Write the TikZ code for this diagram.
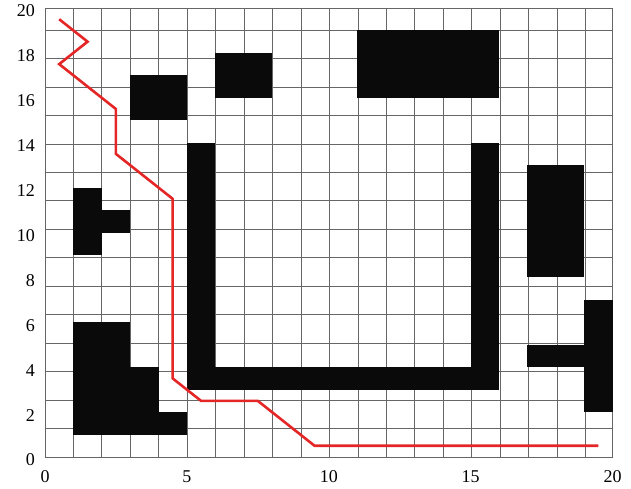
\documentclass[tikz,border=0pt]{standalone}
\usepackage{fontspec}
\setmainfont{Liberation Serif}
\begin{document}
\begin{tikzpicture}[x=28.375pt,y=22.45pt,
  gridline/.style={draw=black!60,line width=0.9pt},
  obst/.style={fill=black!96},
  route/.style={draw={rgb,255:red,228;green,38;blue,38},line width=2.6pt,line join=miter},
  ticklab/.style={font=\fontsize{18}{20}\selectfont,inner sep=0pt}]
\useasboundingbox (-45pt,-31pt) rectangle (586pt,457pt);
% grid
\draw[gridline] (0,0) grid (20,20);
\draw[gridline] (0,0) rectangle (20,20);
% obstacles
\fill[obst] (3,15) rectangle (5,17);
\fill[obst] (6,16) rectangle (8,18);
\fill[obst] (11,16) rectangle (16,19);
\fill[obst] (5,3) rectangle (6,14);
\fill[obst] (5,3) rectangle (16,4);
\fill[obst] (15,3) rectangle (16,14);
\fill[obst] (1,9) rectangle (2,12);
\fill[obst] (2,10) rectangle (3,11);
\fill[obst] (17,8) rectangle (19,13);
\fill[obst] (19,2) rectangle (20,7);
\fill[obst] (17,4) rectangle (19,5);
\fill[obst] (1,1) rectangle (3,6);
\fill[obst] (3,1) rectangle (4,4);
\fill[obst] (4,1) rectangle (5,2);
% path
\draw[route] (0.5,19.5) -- (1.5,18.5) -- (0.5,17.5) -- (2.5,15.5) -- (2.5,13.5)
  -- (4.5,11.5) -- (4.5,3.5) -- (5.5,2.5) -- (7.5,2.5) -- (9.5,0.5) -- (19.5,0.5);
% tick labels
\foreach \v in {0,5,10,15,20}
  \node[ticklab,anchor=center] (xl\v) at ([yshift=-20pt]\v,0) {\v};
\foreach \v in {0,2,...,20}
  \node[ticklab,anchor=east] (yl\v) at ([xshift=-10pt,yshift=-3pt]0,\v) {\v};
\end{tikzpicture}
\end{document}
